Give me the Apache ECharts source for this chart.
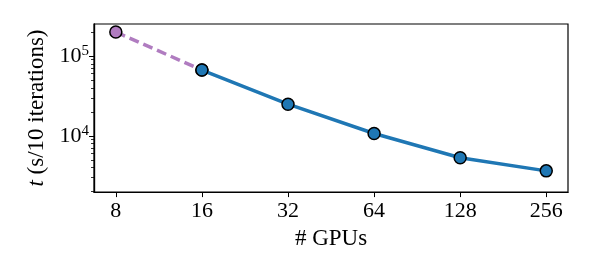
<!DOCTYPE html>
<html><head><meta charset="utf-8">
<script src="https://cdn.jsdelivr.net/npm/echarts@6/dist/echarts.min.js"></script>
<style>html,body{margin:0;padding:0;background:#fff}#c{width:592px;height:255px}</style>
</head><body><div id="c"></div>
<script>
const gpus = [8, 16, 32, 64, 128, 256];
const times = [200000, 66700, 24900, 10700, 5320, 3640];
const xTicks = [8, 16, 32, 64, 128, 256];
const yMajor = [10000, 100000];
const yMinor = [2000,3000,4000,5000,6000,7000,8000,9000,20000,30000,40000,50000,60000,70000,80000,90000,200000];
const xRange = [6.71, 305];
const yRange = [1972, 252000];

const L2 = Math.log2, L10 = Math.log10;
const font = 'Liberation Serif';
const chart = echarts.init(document.getElementById('c'), null, {renderer:'canvas'});
const baseY = {
  type:'value', min:L10(yRange[0]), max:L10(yRange[1]), position:'left',
  axisLine:{show:true, lineStyle:{color:'#000', width:1.2}}, splitLine:{show:false}
};
chart.setOption({
  animation:false,
  grid:{left:94, right:24, top:24, bottom:60, show:true, borderColor:'#000', borderWidth:1.2, containLabel:false},
  xAxis:{
    type:'value', min:L2(xRange[0]), max:L2(xRange[1]),
    name:'# GPUs', nameLocation:'middle', nameGap:34,
    nameTextStyle:{fontFamily:font, fontSize:23, color:'#000'},
    axisLine:{show:true, lineStyle:{color:'#000', width:1.2}},
    axisTick:{show:true, length:5, inside:false, customValues:xTicks.map(L2), lineStyle:{color:'#000', width:1}},
    axisLabel:{customValues:xTicks.map(L2), formatter:v=>String(Math.round(Math.pow(2,v))), fontFamily:font, fontSize:22, color:'#000', margin:8},
    splitLine:{show:false}
  },
  yAxis:[
    Object.assign({}, baseY, {
      name:'{i|t} (s/10 iterations)', nameLocation:'middle', nameGap:46,
      nameTextStyle:{fontFamily:font, fontSize:23, color:'#000', rich:{i:{fontFamily:font, fontSize:23, fontStyle:'italic', color:'#000'}}},
      axisTick:{show:true, length:5, customValues:yMajor.map(L10), lineStyle:{color:'#000', width:1}},
      axisLabel:{customValues:yMajor.map(L10), formatter:v=>'10{s|'+Math.round(v)+'}', fontFamily:font, fontSize:22, color:'#000', margin:5,
        rich:{s:{fontFamily:font, fontSize:15, color:'#000', padding:[0,0,10,0]}}}
    }),
    Object.assign({}, baseY, {
      axisTick:{show:true, length:3, customValues:yMinor.map(L10), lineStyle:{color:'#000', width:0.8}},
      axisLabel:{show:false}
    })
  ],
  series:[
    {type:'line', data:gpus.slice(0,2).map((g,i)=>[L2(g), L10(times[i])]),
     lineStyle:{color:'#b07cc0', width:3.5, type:[10,5]}, symbol:'circle', symbolSize:12,
     itemStyle:{color:'#b07cc0', borderColor:'#000', borderWidth:1.5}, z:2},
    {type:'line', data:gpus.slice(1).map((g,i)=>[L2(g), L10(times[i+1])]),
     lineStyle:{color:'#1f77b4', width:3.5}, symbol:'circle', symbolSize:12,
     itemStyle:{color:'#1f77b4', borderColor:'#000', borderWidth:1.5}, z:3}
  ]
});
</script></body></html>
